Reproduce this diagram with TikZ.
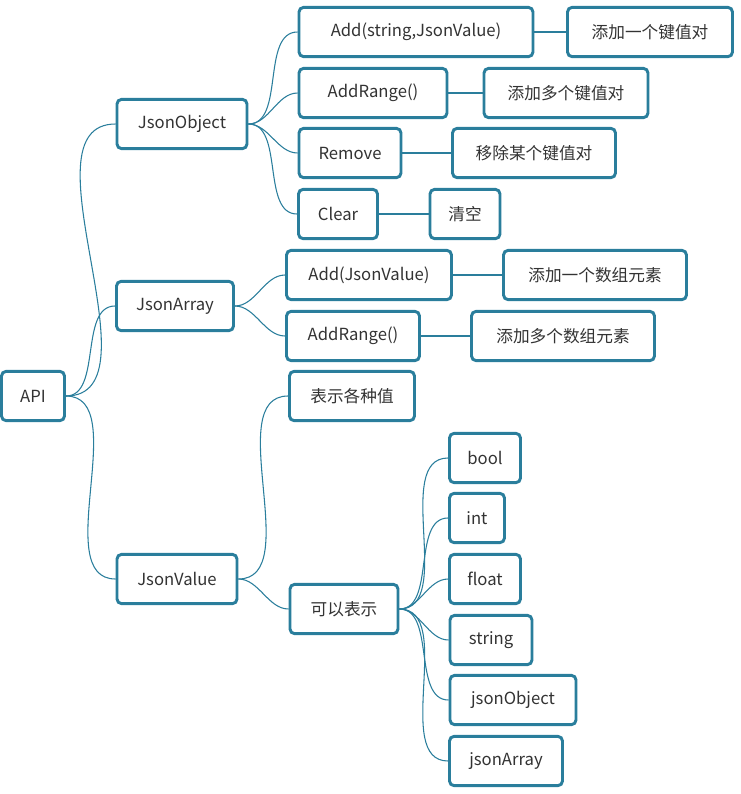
\documentclass[tikz,border=0pt]{standalone}
\usepackage{fontspec}
\setmainfont{Noto Sans CJK SC}
\definecolor{teal1}{HTML}{2A7E9C}
\definecolor{txt}{HTML}{333333}
\begin{document}
\begin{tikzpicture}[x=0.75pt,y=-0.75pt,
  box/.style={draw=teal1,line width=2.2pt,rounded corners=3.5pt,minimum height=37pt,inner sep=0pt,text=txt,font=\fontsize{12.5pt}{14pt}\selectfont,fill=white},
  link/.style={draw=teal1,line width=0.8pt},
  curve/.style={link,out=0,in=180,looseness=0.9}]
\useasboundingbox (0,0) rectangle (741,794);
\newcommand\bx[5]{\node[box,minimum width=#4*0.75pt] (#1) at (#2,#3) {#5};}
\bx{api}{33}{396}{63}{API}
\bx{jo}{182}{124}{130}{JsonObject}
\bx{ja}{175}{306}{117}{JsonArray}
\bx{jv}{177}{579}{120}{JsonValue}
\bx{o1}{416}{32}{234}{Add(string,JsonValue)}
\bx{o1d}{650}{32}{165}{添加一个键值对}
\bx{o2}{373}{93}{148}{AddRange()}
\bx{o2d}{566}{93}{164}{添加多个键值对}
\bx{o3}{350}{153}{102}{Remove}
\bx{o3d}{534}{153}{163}{移除某个键值对}
\bx{o4}{338}{214}{79}{Clear}
\bx{o4d}{465}{214}{70}{清空}
\bx{a1}{369}{275}{165}{Add(JsonValue)}
\bx{a1d}{595}{275}{183}{添加一个数组元素}
\bx{a2}{353}{336}{133}{AddRange()}
\bx{a2d}{563}{336}{183}{添加多个数组元素}
\bx{v1}{352}{396}{125}{表示各种值}
\bx{v2}{344}{609}{108}{可以表示}
\bx{t1}{485}{458}{71}{bool}
\bx{t2}{477}{518}{55}{int}
\bx{t3}{485}{579}{71}{float}
\bx{t4}{491}{640}{82}{string}
\bx{t5}{513}{700}{126}{jsonObject}
\bx{t6}{506}{761}{113}{jsonArray}
\begin{scope}[on background layer/.style={}]
\end{scope}
\foreach \a/\b in {api/jo,api/ja,api/jv,jo/o1,jo/o2,jo/o3,jo/o4,ja/a1,ja/a2,jv/v1,jv/v2,v2/t1,v2/t2,v2/t3,v2/t4,v2/t5,v2/t6}
  \draw[curve] (\a.east) to (\b.west);
\foreach \a/\b in {o1/o1d,o2/o2d,o3/o3d,o4/o4d,a1/a1d,a2/a2d}
  \draw[link] (\a.east) -- (\b.west);
\end{tikzpicture}
\end{document}
